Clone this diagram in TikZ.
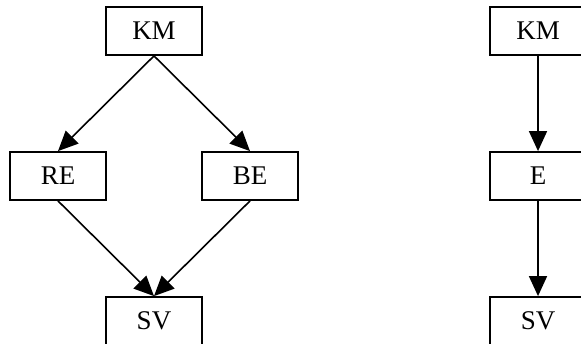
\documentclass[tikz,border=0pt]{standalone}
\usepackage{fontspec}
\setmainfont{Liberation Serif}
\usetikzlibrary{arrows.meta,positioning}

\tikzset{
    blk/.style={draw, line width=0.9pt, minimum width=48pt, minimum height=24pt, inner sep=0pt, font=\fontsize{13.5}{15}\selectfont},
    flow/.style={line width=0.8pt, -{Triangle[length=10pt, width=9pt]}}
}

\begin{document}
\begin{tikzpicture}[x=0.5pt, y=-0.5pt]
    \clip (0,0) rectangle (581,343);

    % Left graph
    \node[blk] (km1) at (154, 31) {KM};
    \node[blk] (re) at (58, 176) {RE};
    \node[blk] (be) at (250, 176) {BE};
    \node[blk] (sv1) at (154, 321) {SV};

    \draw[flow] (km1.south) -- (re.north);
    \draw[flow] (km1.south) -- (be.north);
    \draw[flow] (re.south) -- (sv1.north);
    \draw[flow] (be.south) -- (sv1.north);

    % Right graph
    \node[blk] (km2) at (538, 31) {KM};
    \node[blk] (e) at (538, 176) {E};
    \node[blk] (sv2) at (538, 321) {SV};

    \draw[flow] (km2) -- (e);
    \draw[flow] (e) -- (sv2);
\end{tikzpicture}
\end{document}
